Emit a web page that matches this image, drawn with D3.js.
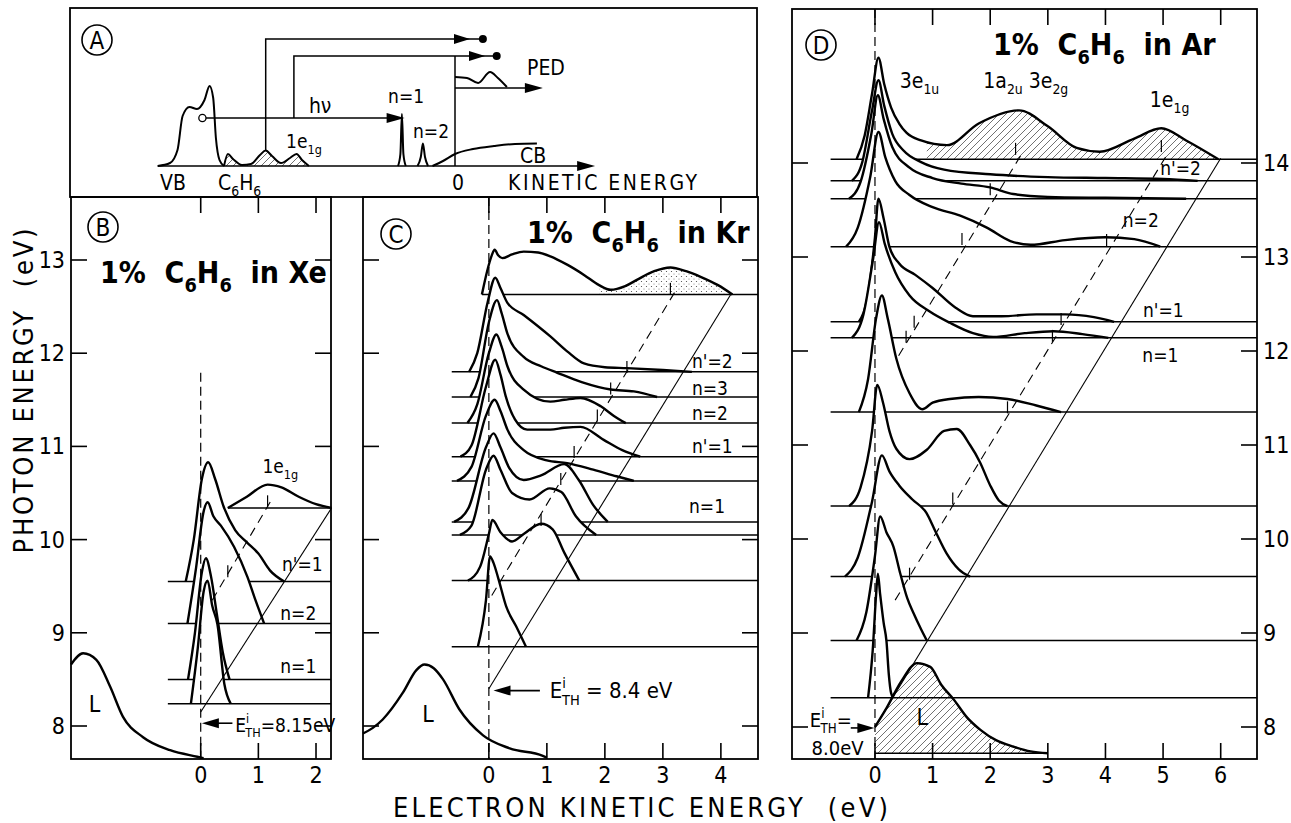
<!DOCTYPE html>
<html>
<head>
<meta charset="utf-8">
<script src="https://cdn.jsdelivr.net/npm/d3@7"></script>
<style>
  body { margin: 0; background: #fff; }
  text { font-family: "DejaVu Sans Condensed", "DejaVu Sans", "Liberation Sans Narrow", sans-serif; font-stretch: condensed; fill: #000; white-space: pre; }
</style>
</head>
<body>
<script>
var W = 1291, H = 823;

// ---------- panel A : level scheme (schematic units) ----------
var vbBand   = [[-9.91,0],[-9.5,0.15],[-9.25,0.8],[-9.08,2.5],[-8.85,2.95],[-8.6,2.85],[-8.35,3.3],[-8.18,4.0],[-8.06,3.4],[-7.97,1.4],[-7.85,0.3],[-7.7,0]];
var benzBand = [[-7.7,0],[-7.57,0.6],[-7.4,0.35],[-7.1,0.05],[-6.8,0.1],[-6.5,0.55],[-6.31,0.77],[-6.1,0.5],[-5.8,0.15],[-5.5,0.4],[-5.28,0.6],[-5.1,0.3],[-4.87,0]];
var exc1Peak = [[-1.9,0],[-1.82,0.6],[-1.77,2.6],[-1.72,0.6],[-1.64,0]];
var exc2Peak = [[-1.25,0],[-1.14,0.45],[-1.07,1.13],[-1.0,0.45],[-0.9,0]];
var cbBand   = [[-0.75,0],[-0.4,0.25],[0,0.6],[0.6,0.85],[1.3,1.0],[2.0,1.1],[2.73,1.12]];
var pedBand  = [[0,4.45],[0.4,4.4],[0.77,4.15],[1.17,4.7],[1.43,4.4],[1.73,3.95]];
var aAxis    = [-9.91, 4.67];
var hvArrow  = [[-8.3,2.4],[-1.68,2.4]];
var upPath1  = [[-6.31,0.77],[-6.31,6.35],[0.93,6.35]];
var upPath2  = [[-5.37,2.4],[-5.37,5.5],[1.39,5.5]];
var tips     = [0.5, 1.0];
var pedArrow = [[0,3.9],[2.93,3.9]];

// ---------- panel B : 1% C6H6 in Xe ----------
var xeHv    = [10.34, 9.55, 9.10, 8.50, 8.24];
var xeStart = [0.47, -0.57, -0.57, -0.57, -0.57];
var xeCurves = [
  [[0.47,0],[0.8,0.12],[1.16,0.25],[1.4,0.22],[1.7,0.12],[2.0,0.04],[2.27,0]],
  [[-0.26,0],[-0.12,0.45],[0.02,1.1],[0.13,1.28],[0.25,1.1],[0.4,0.8],[0.6,0.55],[0.8,0.42],[1.0,0.3],[1.2,0.12],[1.45,0]],
  [[-0.23,0],[-0.08,0.6],[0.05,1.2],[0.12,1.3],[0.22,1.15],[0.35,1.05],[0.58,0.82],[0.81,0.5],[0.95,0.25],[1.1,0]],
  [[-0.22,0],[-0.1,0.5],[0.02,1.15],[0.09,1.3],[0.18,1.1],[0.28,0.7],[0.38,0.3],[0.5,0]],
  [[-0.17,0],[-0.05,0.6],[0.05,1.2],[0.12,1.32],[0.2,1.05],[0.29,0.85],[0.41,0.21],[0.52,0]]
];
var xeLum    = [[-2.25,8.66],[-2.04,8.78],[-1.81,8.71],[-1.57,8.42],[-1.35,8.1],[-1.0,7.88],[-0.53,7.74],[-0.06,7.67],[0.05,7.655]];
var xeSolid  = [[0,8.15],[2.27,10.34]];
var xeDashed = [[0.2,9.35],[1.25,10.45]];
var xeZeroTop = 11.79;
var xeMarks  = [[0.47,9.65],[1.16,10.4]];

// ---------- panel C : 1% C6H6 in Kr ----------
var krHv    = [12.63, 11.80, 11.53, 11.25, 10.89, 10.63, 10.19, 10.05, 9.56, 8.85];
var krStart = [-0.12, -0.64, -0.64, -0.64, -0.64, -0.64, -0.64, -0.64, -0.64, -0.64];
var krCurves = [
  [[-0.12,0],[-0.03,0.25],[0.05,0.42],[0.1,0.48],[0.16,0.42],[0.23,0.39],[0.4,0.43],[0.6,0.46],[0.85,0.45],[1.06,0.41],[1.35,0.32],[1.64,0.21],[1.9,0.1],[2.1,0.05],[2.35,0.09],[2.56,0.16],[2.85,0.25],[3.13,0.29],[3.4,0.25],[3.65,0.19],[3.95,0.1],[4.2,0]],
  [[-0.34,0],[-0.2,0.2],[-0.02,0.75],[0.11,1.01],[0.2,0.9],[0.32,0.74],[0.6,0.61],[1.06,0.38],[1.35,0.22],[1.64,0.09],[2.0,0.05],[2.38,0.04],[3.0,0.02],[3.5,0]],
  [[-0.32,0],[-0.18,0.2],[0,0.8],[0.14,1.04],[0.22,0.9],[0.32,0.68],[0.6,0.43],[0.9,0.33],[1.18,0.26],[1.6,0.16],[2.1,0.08],[2.5,0.06],[2.9,0]],
  [[-0.37,0],[-0.2,0.2],[0,0.75],[0.13,0.95],[0.22,0.82],[0.32,0.61],[0.6,0.36],[1.06,0.23],[1.3,0.25],[1.58,0.27],[1.93,0.18],[2.15,0.08],[2.36,0]],
  [[-0.49,0],[-0.3,0.12],[-0.05,0.75],[0.11,1.04],[0.2,0.88],[0.29,0.65],[0.45,0.4],[0.66,0.29],[1.06,0.29],[1.3,0.31],[1.58,0.32],[1.98,0.18],[2.3,0.07],[2.61,0]],
  [[-0.55,0],[-0.3,0.15],[-0.05,0.7],[0.1,0.87],[0.2,0.75],[0.32,0.55],[0.6,0.33],[1.0,0.22],[1.35,0.19],[1.8,0.12],[2.2,0.05],[2.5,0]],
  [[-0.6,0],[-0.35,0.15],[-0.05,0.8],[0.08,0.95],[0.2,0.8],[0.35,0.58],[0.6,0.45],[0.9,0.5],[1.3,0.62],[1.55,0.45],[1.8,0.18],[2.05,0]],
  [[-0.5,0],[-0.3,0.1],[-0.05,0.7],[0.08,0.85],[0.2,0.7],[0.4,0.45],[0.7,0.38],[1.05,0.5],[1.25,0.46],[1.5,0.2],[1.85,0]],
  [[-0.36,0],[-0.15,0.15],[0,0.5],[0.06,0.65],[0.2,0.52],[0.4,0.42],[0.6,0.5],[0.9,0.61],[1.1,0.55],[1.3,0.3],[1.56,0]],
  [[-0.19,0],[-0.05,0.5],[0.02,0.97],[0.08,0.9],[0.16,0.74],[0.3,0.43],[0.47,0.22],[0.64,0]]
];
var krLum    = [[-2.17,7.92],[-2.0,7.98],[-1.83,8.07],[-1.48,8.36],[-1.25,8.6],[-1.11,8.66],[-0.95,8.62],[-0.79,8.5],[-0.51,8.18],[-0.1,7.9],[0.36,7.76],[0.93,7.68],[1.0,7.66]];
var krSolid  = [[0,8.4],[4.17,12.63]];
var krDashed = [[0.05,9.4],[3.2,12.65]];
var krHatchFrom = 1.9;
var krMarks  = [[3.13,12.68],[2.38,11.84],[2.1,11.61],[1.87,11.32],[1.47,10.93],[1.24,10.64],[0.9,10.2]];

// ---------- panel D : 1% C6H6 in Ar ----------
var arHv    = [14.04, 13.81, 13.62, 13.11, 12.31, 12.14, 11.35, 10.35, 9.60, 8.92, 8.31];
var arStart = [-0.77, -0.77, -0.77, -0.77, -0.77, -0.77, -0.77, -0.77, -0.77, -0.77, -0.77];
var arCurves = [
  [[-0.32,0],[-0.18,0.25],[-0.05,0.7],[0.06,1.08],[0.16,0.8],[0.28,0.55],[0.42,0.38],[0.55,0.28],[0.8,0.2],[1.25,0.15],[1.8,0.38],[2.5,0.52],[3.0,0.35],[3.5,0.12],[3.9,0.08],[4.5,0.22],[4.97,0.33],[5.4,0.2],[5.96,0]],
  [[-0.4,0],[-0.22,0.2],[-0.05,0.75],[0.06,1.07],[0.16,0.8],[0.3,0.5],[0.5,0.32],[0.8,0.2],[1.2,0.12],[2.0,0.07],[3.0,0.04],[4.0,0.03],[5.0,0.02],[5.6,0]],
  [[-0.45,0],[-0.25,0.18],[-0.06,0.7],[0.05,1.1],[0.15,0.85],[0.3,0.55],[0.6,0.33],[1.0,0.22],[1.5,0.16],[2.0,0.12],[2.4,0.05],[3.0,0.02],[4.0,0.01],[5.4,0]],
  [[-0.5,0],[-0.3,0.2],[-0.08,0.75],[0.06,1.22],[0.18,0.95],[0.35,0.7],[0.6,0.55],[1.0,0.42],[1.48,0.33],[1.95,0.2],[2.35,0.06],[2.7,0.02],[3.3,0.07],[4.0,0.1],[4.5,0.08],[4.95,0]],
  [[-0.28,0],[-0.12,0.3],[0,0.9],[0.06,1.31],[0.15,1.1],[0.25,0.8],[0.42,0.62],[0.7,0.5],[1.0,0.36],[1.4,0.15],[1.7,0.06],[2.2,0.06],[2.8,0.08],[3.3,0.08],[3.8,0.05],[4.15,0]],
  [[-0.4,0],[-0.2,0.25],[-0.03,0.85],[0.07,1.23],[0.17,1.0],[0.35,0.7],[0.6,0.45],[0.95,0.28],[1.3,0.16],[1.7,0.05],[2.05,0.01],[2.6,0.05],[3.1,0.07],[3.6,0.04],[4.05,0]],
  [[-0.28,0],[-0.12,0.35],[0.02,1.0],[0.12,1.24],[0.22,1.0],[0.37,0.57],[0.6,0.2],[0.82,0.03],[1.0,0.1],[1.3,0.14],[1.8,0.16],[2.3,0.14],[2.8,0.07],[3.23,0]],
  [[-0.45,0],[-0.25,0.2],[-0.05,0.8],[0.04,1.29],[0.14,1.1],[0.25,0.8],[0.37,0.61],[0.6,0.5],[0.9,0.6],[1.2,0.8],[1.42,0.82],[1.65,0.65],[1.82,0.47],[2.0,0.22],[2.15,0.06],[2.3,0]],
  [[-0.52,0],[-0.3,0.2],[-0.05,0.8],[0.12,1.29],[0.25,1.12],[0.42,0.97],[0.65,0.82],[0.89,0.68],[1.05,0.48],[1.24,0.25],[1.45,0.08],[1.65,0]],
  [[-0.32,0],[-0.15,0.3],[0,0.9],[0.09,1.32],[0.2,1.15],[0.32,1.0],[0.44,0.71],[0.56,0.45],[0.67,0.29],[0.8,0.12],[0.9,0]],
  [[-0.12,0],[-0.04,0.5],[0.02,1.1],[0.05,1.32],[0.09,1.1],[0.15,0.8],[0.2,0.6],[0.24,0.25],[0.28,0.05],[0.32,0]]
];
var arLum     = [[0,8.0],[0.2,8.2],[0.45,8.48],[0.73,8.68],[0.96,8.64],[1.15,8.45],[1.37,8.29],[1.6,8.1],[1.83,7.97],[2.1,7.86],[2.41,7.79],[2.7,7.74],[3.0,7.72]];
var arLumBase = 7.72;
var arSolid   = [[0,8.0],[6.0,14.05]];
var arDashed1 = [[0.41,11.95],[2.55,14.1]];
var arDashed2 = [[0.35,9.35],[5.08,14.1]];
var arHatchFrom = 0.9;
var arMarks   = [[2.44,14.14],[2.0,13.71],[1.51,13.18],[0.68,12.3],[0.54,12.14],[2.3,11.39],[1.35,10.42],[0.6,9.62],[4.02,13.17],[3.23,12.33],[3.08,12.15],[4.97,14.17]];

// tick values
var xeKeTicks = [0, 1, 2];
var krKeTicks = [0, 1, 2, 3, 4];
var arKeTicks = [0, 1, 2, 3, 4, 5, 6];
var bcHvTicks = [8, 9, 10, 11, 12, 13];
var arHvTicks = [8, 9, 10, 11, 12, 13, 14];

var svg = d3.select('body').append('svg').attr('width', W).attr('height', H);
var defs = svg.append('defs');
defs.append('pattern').attr('id', 'hatch').attr('patternUnits', 'userSpaceOnUse')
    .attr('width', 7).attr('height', 7)
  .append('path').attr('d', 'M-1,1 l2,-2 M0,7 l7,-7 M6,8 l2,-2')
    .attr('stroke', '#333').attr('stroke-width', 0.7);
var dots = defs.append('pattern').attr('id', 'dots').attr('patternUnits', 'userSpaceOnUse')
    .attr('width', 5).attr('height', 5);
dots.append('circle').attr('cx', 1.5).attr('cy', 1.5).attr('r', 0.6).attr('fill', '#444');
dots.append('circle').attr('cx', 4).attr('cy', 4).attr('r', 0.5).attr('fill', '#666');

var clipCount = 0;

function rich(g, x, y, parts, fs, anchor) {
  var t = g.append('text').attr('x', x).attr('y', y).attr('font-size', fs)
      .attr('text-anchor', anchor || 'start');
  var shift = 0;
  parts.forEach(function (p) {
    var s = p[1] === 1 ? fs * 0.3 : p[1] === -1 ? -fs * 0.45 : 0;
    var ts = t.append('tspan').text(p[0]).attr('font-size', p[1] ? fs * 0.66 : fs).attr('dy', s - shift);
    if (p[2]) ts.attr('dx', p[2]);
    shift = s;
  });
  return t;
}

function arrowHead(g, xt, yt, len, half, dir) {
  var d = dir || 1;
  g.append('path')
    .attr('d', 'M' + xt + ',' + yt + 'L' + (xt - d * len) + ',' + (yt - half) + 'L' + (xt - d * len) + ',' + (yt + half) + 'Z')
    .attr('fill', '#000');
}

function seg(g, x, y, pts, w, dash) {
  var l = g.append('path')
    .attr('d', d3.line().x(function (d) { return x(d[0]); }).y(function (d) { return y(d[1]); })(pts))
    .attr('fill', 'none').attr('stroke', '#000').attr('stroke-width', w);
  if (dash) l.attr('stroke-dasharray', dash);
  return l;
}

function circled(g, cx, cy, letter) {
  g.append('circle').attr('cx', cx).attr('cy', cy).attr('r', 15)
    .attr('fill', 'none').attr('stroke', '#000').attr('stroke-width', 1.6);
  g.append('text').attr('x', cx).attr('y', cy + 8.5).attr('text-anchor', 'middle')
    .attr('font-size', 24).text(letter);
}

// ---------------- panel A ----------------
(function () {
  var g = svg.append('g');
  var x = d3.scaleLinear().domain([-10, 5]).range([155, 605]);
  var y = d3.scaleLinear().domain([0, 8]).range([166, 6]);
  var smooth = d3.line().curve(d3.curveMonotoneX)
      .x(function (d) { return x(d[0]); }).y(function (d) { return y(d[1]); });

  g.append('rect').attr('x', 70).attr('y', 8).attr('width', 687).attr('height', 189)
    .attr('fill', 'none').attr('stroke', '#000').attr('stroke-width', 1.8);

  var area = d3.area().curve(d3.curveMonotoneX)
      .x(function (d) { return x(d[0]); }).y0(y(0)).y1(function (d) { return y(d[1]); });
  g.append('path').attr('d', area(benzBand)).attr('fill', 'url(#hatch)');

  [vbBand, benzBand, exc1Peak, exc2Peak, cbBand, pedBand].forEach(function (c) {
    g.append('path').attr('d', smooth(c)).attr('fill', 'none')
      .attr('stroke', '#000').attr('stroke-width', 2);
  });

  // energy axis
  seg(g, x, y, [[aAxis[0], 0], [aAxis[1] - 0.4, 0]], 1.6);
  arrowHead(g, x(aAxis[1]), y(0), 18, 5);
  // photon arrow from the hole
  seg(g, x, y, [[hvArrow[0][0], hvArrow[0][1]], [hvArrow[1][0] - 0.4, hvArrow[1][1]]], 1.5);
  arrowHead(g, x(hvArrow[1][0]), y(hvArrow[1][1]), 18, 5);
  g.append('circle').attr('cx', x(-8.42)).attr('cy', y(2.4)).attr('r', 3.6)
    .attr('fill', '#fff').attr('stroke', '#000').attr('stroke-width', 1.3);
  // escaping electrons
  [upPath1, upPath2].forEach(function (p, i) {
    seg(g, x, y, p, 1.5);
    arrowHead(g, x(tips[i]), y(p[2][1]), 16, 5);
    g.append('circle').attr('cx', x(p[2][0])).attr('cy', y(p[2][1])).attr('r', 4).attr('fill', '#000');
  });
  seg(g, x, y, [[0, 0], [0, upPath2[1][1]]], 1.5);
  seg(g, x, y, [pedArrow[0], [pedArrow[1][0] - 0.4, pedArrow[1][1]]], 1.5);
  arrowHead(g, x(pedArrow[1][0]), y(pedArrow[1][1]), 18, 5);

  var fs = 21;
  g.append('text').attr('x', x(-9.83)).attr('y', y(-1.2)).attr('font-size', fs).text('VB');
  rich(g, x(-7.9), y(-1.2), [['C', 0], ['6', 1], ['H', 0], ['6', 1]], fs);
  g.append('text').attr('x', x(0.1)).attr('y', y(-1.2)).attr('font-size', fs).attr('text-anchor', 'middle').text('0');
  g.append('text').attr('x', x(1.77)).attr('y', y(-1.2)).attr('font-size', fs)
    .attr('textLength', 189).attr('lengthAdjust', 'spacing').text('KINETIC ENERGY');
  g.append('text').attr('x', x(-4.87)).attr('y', y(2.65)).attr('font-size', fs).text('h\u03bd');
  g.append('text').attr('x', x(-2.23)).attr('y', y(3.15)).attr('font-size', 19).text('n=1');
  g.append('text').attr('x', x(-1.4)).attr('y', y(1.4)).attr('font-size', 19).text('n=2');
  rich(g, x(-5.63), y(0.9), [['1e', 0], ['1g', 1]], 19);
  g.append('text').attr('x', x(2.17)).attr('y', y(0.15)).attr('font-size', fs).text('CB');
  g.append('text').attr('x', x(2.4)).attr('y', y(4.55)).attr('font-size', fs).text('PED');
  circled(g, 97, 40, 'A');
})();

// ---------------- generic spectrum panel ----------------
function drawSpectra(g, x, y, hvs, starts, curves, kEnd, hatch) {
  hvs.forEach(function (hv, i) {
    var pts = curves[i];
    var area = d3.area().curve(d3.curveMonotoneX)
        .x(function (d) { return x(d[0]); })
        .y0(y(hv))
        .y1(function (d) { return y(hv + d[1]); });
    var line = d3.line().curve(d3.curveMonotoneX)
        .x(function (d) { return x(d[0]); })
        .y(function (d) { return y(hv + d[1]); });
    g.append('path').attr('d', area(pts)).attr('fill', '#fff');
    if (hatch && hatch.index === i) {
      var cid = 'clip' + (clipCount++);
      g.append('clipPath').attr('id', cid).append('rect')
        .attr('x', x(hatch.from)).attr('y', 0)
        .attr('width', x(kEnd) - x(hatch.from)).attr('height', H);
      g.append('path').attr('d', area(pts)).attr('fill', 'url(#' + hatch.pattern + ')')
        .attr('clip-path', 'url(#' + cid + ')');
    }
    g.append('line').attr('x1', x(starts[i])).attr('x2', x(kEnd))
      .attr('y1', y(hv)).attr('y2', y(hv))
      .attr('stroke', '#000').attr('stroke-width', 1.5);
    g.append('path').attr('d', line(pts)).attr('fill', 'none')
      .attr('stroke', '#000').attr('stroke-width', 2.4).attr('stroke-linejoin', 'round');
  });
}

function drawLum(g, x, y, pts, base, hatch) {
  var line = d3.line().curve(d3.curveMonotoneX)
      .x(function (d) { return x(d[0]); }).y(function (d) { return y(d[1]); });
  if (hatch) {
    var area = d3.area().curve(d3.curveMonotoneX)
        .x(function (d) { return x(d[0]); }).y0(y(base)).y1(function (d) { return y(d[1]); });
    g.append('path').attr('d', area(pts)).attr('fill', 'url(#hatch)');
    seg(g, x, y, [[pts[0][0], base], [pts[pts.length - 1][0], base]], 1.4);
  }
  g.append('path').attr('d', line(pts)).attr('fill', 'none')
    .attr('stroke', '#000').attr('stroke-width', 2.4);
}

function drawMarks(g, x, y, marks) {
  marks.forEach(function (m) {
    g.append('line').attr('x1', x(m[0])).attr('x2', x(m[0]))
      .attr('y1', y(m[1]) - 7).attr('y2', y(m[1]) + 5)
      .attr('stroke', '#000').attr('stroke-width', 1.2);
  });
}

function frame(g, x, y, box, keTicks, hvTicks, labelSide) {
  g.append('rect').attr('x', box.left).attr('y', box.top)
    .attr('width', box.right - box.left).attr('height', box.bottom - box.top)
    .attr('fill', 'none').attr('stroke', '#000').attr('stroke-width', 1.8);
  var t = 16;
  keTicks.forEach(function (k) {
    g.append('line').attr('x1', x(k)).attr('x2', x(k)).attr('y1', box.top).attr('y2', box.top + t)
      .attr('stroke', '#000').attr('stroke-width', 1.6);
    g.append('line').attr('x1', x(k)).attr('x2', x(k)).attr('y1', box.bottom - t).attr('y2', box.bottom)
      .attr('stroke', '#000').attr('stroke-width', 1.6);
    g.append('text').attr('x', x(k)).attr('y', 783).attr('text-anchor', 'middle')
      .attr('font-size', 23).text(k);
  });
  hvTicks.forEach(function (e) {
    g.append('line').attr('x1', box.left).attr('x2', box.left + t).attr('y1', y(e)).attr('y2', y(e))
      .attr('stroke', '#000').attr('stroke-width', 1.6);
    g.append('line').attr('x1', box.right - t).attr('x2', box.right).attr('y1', y(e)).attr('y2', y(e))
      .attr('stroke', '#000').attr('stroke-width', 1.6);
    if (labelSide === 'left') {
      g.append('text').attr('x', box.left - 6).attr('y', y(e) + 8).attr('text-anchor', 'end')
        .attr('font-size', 23).text(e);
    } else if (labelSide === 'right') {
      g.append('text').attr('x', box.right + 6).attr('y', y(e) + 8).attr('text-anchor', 'start')
        .attr('font-size', 23).text(e);
    }
  });
}

function ethLabel(g, xt, yt, value, fs) {
  rich(g, xt, yt, [['E', 0], ['i', -1], ['TH', 1, -4], [value, 0]], fs);
}

function title(g, x0, y0, gas) {
  rich(g, x0, y0, [['1%  C', 0], ['6', 1], ['H', 0], ['6', 1], ['  in ' + gas, 0]], 30)
    .attr('font-weight', 'bold');
}

// ---------------- panel B ----------------
(function () {
  var g = svg.append('g');
  var box = { left: 71, right: 331, top: 197, bottom: 759 };
  var x = d3.scaleLinear().domain([-2.25, 2.26]).range([box.left, box.right]);
  var y = d3.scaleLinear().domain([8, 13]).range([726, 260]);
  drawLum(g, x, y, xeLum);
  drawSpectra(g, x, y, xeHv, xeStart, xeCurves, 2.26);
  seg(g, x, y, xeSolid, 1.1);
  seg(g, x, y, xeDashed, 1.1, '9,6');
  seg(g, x, y, [[0, xeZeroTop], [0, y.invert(box.bottom)]], 1.2, '9,5');
  drawMarks(g, x, y, xeMarks);
  frame(g, x, y, box, xeKeTicks, bcHvTicks, 'left');
  // threshold arrow
  seg(g, x, y, [[0.55, 8.03], [0.2, 8.03]], 1.6);
  arrowHead(g, x(0.02), y(8.03), 17, 5, -1);
  ethLabel(g, x(0.6), y(7.94), '=8.15eV', 19);
  rich(g, x(1.07), y(10.71), [['1e', 0], ['1g', 1]], 19);
  g.append('text').attr('x', x(1.41)).attr('y', y(9.66)).attr('font-size', 19).text("n'=1");
  g.append('text').attr('x', x(1.38)).attr('y', y(9.14)).attr('font-size', 19).text('n=2');
  g.append('text').attr('x', x(1.38)).attr('y', y(8.57)).attr('font-size', 19).text('n=1');
  g.append('text').attr('x', x(-1.84)).attr('y', y(8.15)).attr('font-size', 23).attr('text-anchor', 'middle').text('L');
  circled(g, 103, 227, 'B');
  title(g, 100, 283, 'Xe');
})();

// ---------------- panel C ----------------
(function () {
  var g = svg.append('g');
  var box = { left: 363, right: 758, top: 197, bottom: 759 };
  var x = d3.scaleLinear().domain([-2.17, 4.64]).range([box.left, box.right]);
  var y = d3.scaleLinear().domain([8, 13]).range([726, 260]);
  drawLum(g, x, y, krLum);
  drawSpectra(g, x, y, krHv, krStart, krCurves, 4.64, { index: 0, from: krHatchFrom, pattern: 'dots' });
  seg(g, x, y, krSolid, 1.1);
  seg(g, x, y, krDashed, 1.1, '9,6');
  seg(g, x, y, [[0, y.invert(box.top)], [0, y.invert(box.bottom)]], 1.2, '9,5');
  drawMarks(g, x, y, krMarks);
  frame(g, x, y, box, krKeTicks, bcHvTicks, 'none');
  seg(g, x, y, [[0.88, 8.38], [0.3, 8.38]], 1.6);
  arrowHead(g, x(0.08), y(8.38), 17, 5, -1);
  ethLabel(g, x(1.05), y(8.3), ' = 8.4 eV', 22);
  g.append('text').attr('x', x(3.5)).attr('y', y(11.84)).attr('font-size', 19).text("n'=2");
  g.append('text').attr('x', x(3.5)).attr('y', y(11.55)).attr('font-size', 19).text('n=3');
  g.append('text').attr('x', x(3.5)).attr('y', y(11.28)).attr('font-size', 19).text('n=2');
  g.append('text').attr('x', x(3.5)).attr('y', y(10.93)).attr('font-size', 19).text("n'=1");
  g.append('text').attr('x', x(3.45)).attr('y', y(10.29)).attr('font-size', 19).text('n=1');
  g.append('text').attr('x', x(-1.05)).attr('y', y(8.04)).attr('font-size', 23).attr('text-anchor', 'middle').text('L');
  circled(g, 396, 234, 'C');
  title(g, 527, 243, 'Kr');
})();

// ---------------- panel D ----------------
(function () {
  var g = svg.append('g');
  var box = { left: 792, right: 1257, top: 9, bottom: 759 };
  var x = d3.scaleLinear().domain([-1.44, 6.63]).range([box.left, box.right]);
  var y = d3.scaleLinear().domain([8, 14]).range([727, 163]);
  drawLum(g, x, y, arLum, arLumBase, true);
  drawSpectra(g, x, y, arHv, arStart, arCurves, 6.63, { index: 0, from: arHatchFrom, pattern: 'hatch' });
  seg(g, x, y, arSolid, 1.1);
  seg(g, x, y, arDashed1, 1.1, '9,6');
  seg(g, x, y, arDashed2, 1.1, '9,6');
  seg(g, x, y, [[0, y.invert(box.top)], [0, y.invert(box.bottom)]], 1.2, '9,5');
  drawMarks(g, x, y, arMarks);
  frame(g, x, y, box, arKeTicks, arHvTicks, 'right');
  seg(g, x, y, [[-0.42, 7.99], [-0.25, 7.99]], 1.6);
  arrowHead(g, x(-0.01), y(7.99), 17, 5, 1);
  ethLabel(g, x(-1.13), y(8.0), '=', 20);
  g.append('text').attr('x', x(-1.1)).attr('y', y(7.7)).attr('font-size', 20).text('8.0eV');
  rich(g, x(0.43), y(14.8), [['3e', 0], ['1u', 1]], 21);
  rich(g, x(1.88), y(14.8), [['1a', 0], ['2u', 1], [' 3e', 0], ['2g', 1]], 21);
  rich(g, x(4.77), y(14.6), [['1e', 0], ['1g', 1]], 21);
  g.append('text').attr('x', x(4.95)).attr('y', y(13.87)).attr('font-size', 19).text("n'=2");
  g.append('text').attr('x', x(4.3)).attr('y', y(13.32)).attr('font-size', 19).text('n=2');
  g.append('text').attr('x', x(4.65)).attr('y', y(12.36)).attr('font-size', 19).text("n'=1");
  g.append('text').attr('x', x(4.64)).attr('y', y(11.88)).attr('font-size', 19).text('n=1');
  g.append('text').attr('x', x(0.82)).attr('y', y(8.02)).attr('font-size', 23).attr('text-anchor', 'middle').text('L');
  circled(g, 821, 45, 'D');
  title(g, 993, 55, 'Ar');
})();

// ---------------- axis titles ----------------
svg.append('text').attr('x', 393).attr('y', 817).attr('font-size', 27)
  .attr('textLength', 495).attr('lengthAdjust', 'spacing')
  .text('ELECTRON KINETIC ENERGY  (eV)');
svg.append('text').attr('transform', 'translate(33,391) rotate(-90)')
  .attr('text-anchor', 'middle').attr('font-size', 27)
  .attr('textLength', 325).attr('lengthAdjust', 'spacing')
  .text('PHOTON ENERGY  (eV)');
</script>
</body>
</html>
